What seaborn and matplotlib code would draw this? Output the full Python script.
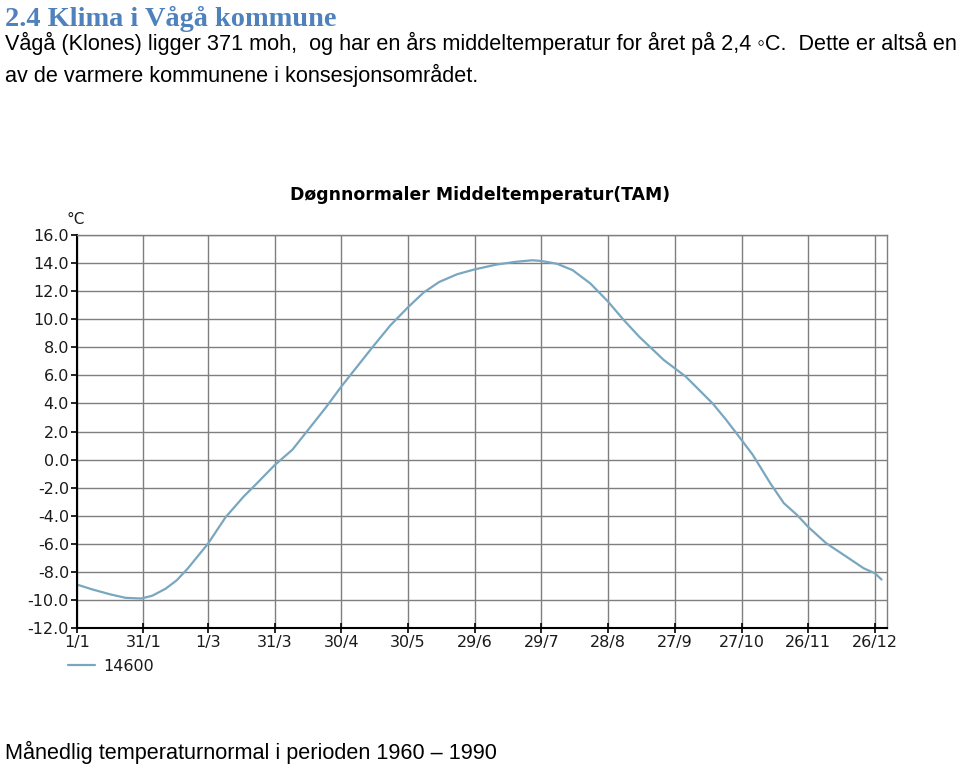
import matplotlib
matplotlib.use("Agg")
import matplotlib.pyplot as plt
import seaborn as sns
import pandas as pd

# ---- data ----
station = "14600"
day_of_year = [0, 7, 15, 22, 29, 34, 40, 45, 50, 59, 67, 75, 81, 89, 97, 105, 112,
               119, 126, 133, 141, 149, 156, 163, 171, 179, 189, 198, 205, 209,
               216, 223, 231, 239, 246, 253, 258, 264, 269, 274, 280, 286, 292,
               299, 304, 312, 318, 324, 329, 337, 346, 354, 359, 362]
temperature = [-8.9, -9.25, -9.6, -9.85, -9.9, -9.7, -9.2, -8.6, -7.75, -6.0, -4.1,
               -2.65, -1.7, -0.4, 0.7, 2.3, 3.7, 5.2, 6.6, 8.0, 9.55, 10.85, 11.9,
               12.65, 13.2, 13.55, 13.9, 14.1, 14.2, 14.15, 13.95, 13.5, 12.55, 11.25,
               9.95, 8.75, 8.0, 7.1, 6.5, 5.9, 4.95, 4.0, 2.85, 1.4, 0.35, -1.7,
               -3.1, -3.95, -4.8, -5.95, -6.9, -7.75, -8.1, -8.55]
x_tick_days = [0, 30, 59, 89, 119, 149, 179, 209, 239, 269, 299, 329, 359]
x_tick_labels = ["1/1", "31/1", "1/3", "31/3", "30/4", "30/5", "29/6", "29/7",
                 "28/8", "27/9", "27/10", "26/11", "26/12"]
y_ticks = [-12, -10, -8, -6, -4, -2, 0, 2, 4, 6, 8, 10, 12, 14, 16]

heading = "2.4 Klima i Vågå kommune"
body1 = "Vågå (Klones) ligger 371 moh,  og har en års middeltemperatur for året på 2,4 \u25e6C.  Dette er altså en"
body2 = "av de varmere kommunene i konsesjonsområdet."
chart_title = "Døgnnormaler Middeltemperatur(TAM)"
caption = "Månedlig temperaturnormal i perioden 1960 \u2013 1990"

df = pd.DataFrame({"dag": day_of_year, "temp": temperature, "stasjon": station})

sns.set_theme(style="white")
plt.rcParams["font.family"] = ["DejaVu Sans"]
plt.rcParams["axes.unicode_minus"] = False

fig = plt.figure(figsize=(9.6, 7.7), dpi=100)
W, H = 960, 770
ax = fig.add_axes([76.7 / W, 1 - 628 / H, 810 / W, 393 / H])

line_color = "#79a7bf"
sns.lineplot(data=df, x="dag", y="temp", hue="stasjon", palette=[line_color],
             linewidth=1.6, ax=ax, legend=True)

ax.set_xlim(0, 364.3)
ax.set_ylim(-12, 16)
ax.set_xticks(x_tick_days)
ax.set_xticklabels(x_tick_labels)
ax.set_yticks(y_ticks)
ax.set_yticklabels([f"{v:.1f}" for v in y_ticks])
ax.set_xlabel("")
ax.set_ylabel("")

grid_c = "#7f7f7f"
ax.grid(True, color=grid_c, linewidth=1.0)
ax.set_axisbelow(True)
for s in ["top", "right"]:
    ax.spines[s].set_color(grid_c)
    ax.spines[s].set_linewidth(1.0)
for s in ["left", "bottom"]:
    ax.spines[s].set_color("black")
    ax.spines[s].set_linewidth(1.5)

ax.tick_params(axis="y", direction="out", length=4, width=1.2, color="black",
               labelsize=11.5, labelcolor="#1a1a1a", pad=1.5, left=True)
ax.tick_params(axis="x", direction="inout", length=7, width=1.2, color="black",
               labelsize=11.5, labelcolor="#1a1a1a", pad=1.5, bottom=True)

leg = ax.legend(loc="upper left", bbox_to_anchor=(68 / W, 1 - 659 / H),
                bbox_transform=fig.transFigure, frameon=False, fontsize=11.5,
                handlelength=1.7, handletextpad=0.5, borderpad=0, borderaxespad=0)
for t in leg.get_texts():
    t.set_color("#1a1a1a")

fig.text(76 / W, 1 - 219 / H, "°C", ha="center", va="center", fontsize=11,
         color="#1a1a1a")
fig.text(480.5 / W, 1 - 195 / H, chart_title, ha="center", va="center",
         fontsize=12.4, fontweight="bold", color="black")

fig.text(5 / W, 1 - 25.5 / H, heading, ha="left", va="baseline",
         family=["Liberation Serif", "DejaVu Serif"], fontweight="bold",
         fontsize=20.4, color="#4f81bd")
sans = ["Liberation Sans", "DejaVu Sans"]
fig.text(5 / W, 1 - 50 / H, body1, ha="left", va="baseline", family=sans,
         fontsize=15.6, color="black")
fig.text(5 / W, 1 - 82 / H, body2, ha="left", va="baseline", family=sans,
         fontsize=15.6, color="black")
fig.text(5 / W, 1 - 759 / H, caption, ha="left", va="baseline", family=sans,
         fontsize=15.6, color="black")

fig.savefig("out.png", dpi=100, facecolor="white")
